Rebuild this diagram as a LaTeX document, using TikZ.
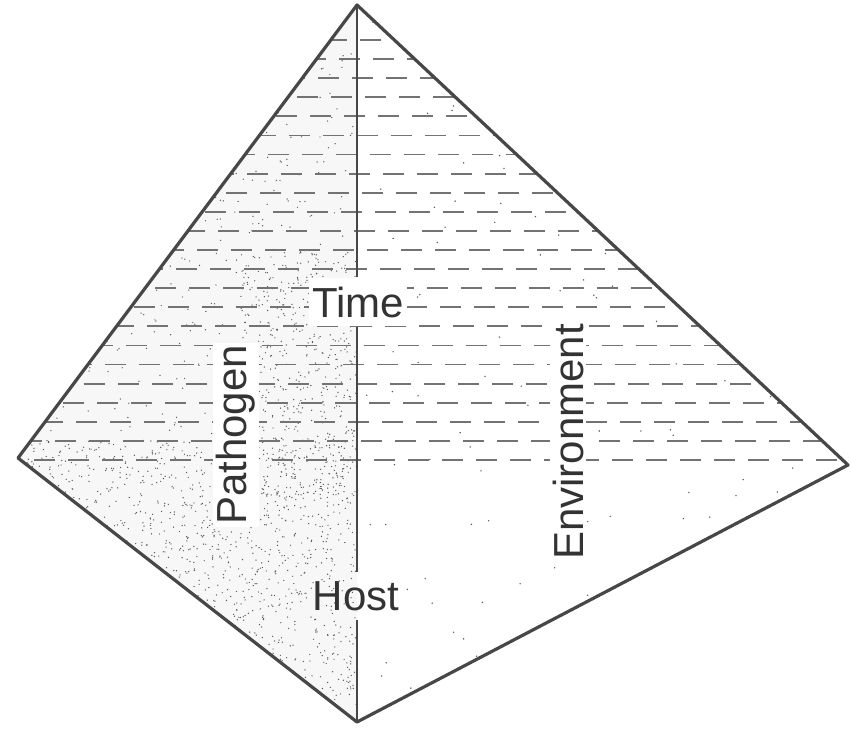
\documentclass[tikz,border=0pt]{standalone}
\usepackage{fontspec}
\setmainfont{Liberation Sans}
\begin{document}
\begin{tikzpicture}[x=1pt,y=-1pt,
  edge/.style={draw=black!72,line width=3.2pt,line join=round,line cap=round},
  spine/.style={draw=black!72,line width=2.6pt},
  lbl/.style={font=\fontsize{42}{48}\selectfont,text=black!80,inner xsep=3pt,inner ysep=9pt},
  dashline/.style={draw=black!55,line width=1.8pt,dash pattern=on 21pt off 13pt},
  dotc/.style={fill=black!65}]
\useasboundingbox (0,0) rectangle (851,731);
\coordinate (A) at (357,5);
\coordinate (L) at (18,458);
\coordinate (R) at (848,465);
\coordinate (B) at (357,722);
% faint tint on the lower left face
\fill[black!3] (L)--(B)--(A)--cycle;
% stippling on left face
\pgfmathsetseed{4321}
\begin{scope}
  \clip (A)--(L)--(B)--cycle;
  \foreach \i in {1,...,800}{
    \pgfmathsetmacro\rx{18+rnd*340}
    \pgfmathsetmacro\ry{5+rnd*717}
    \fill[dotc] (\rx,\ry) circle (0.7);
  }
  \foreach \i in {1,...,500}{
    \pgfmathsetmacro\rx{240+rnd*118}
    \pgfmathsetmacro\ry{250+rnd*250}
    \fill[dotc] (\rx,\ry) circle (0.7);
  }
  \foreach \i in {1,...,1500}{
    \pgfmathsetmacro\rx{18+rnd*340}
    \pgfmathsetmacro\ry{440+rnd*282}
    \fill[dotc] (\rx,\ry) circle (0.7);
  }
\end{scope}
% sparse dots on right face
\begin{scope}
  \clip (A)--(R)--(B)--cycle;
  \foreach \i in {1,...,170}{
    \pgfmathsetmacro\rx{357+rnd*490}
    \pgfmathsetmacro\ry{5+rnd*717}
    \fill[dotc] (\rx,\ry) circle (0.8);
  }
\end{scope}
% dashed horizontal lines
\begin{scope}
  \clip (A)--(L)--(B)--(R)--cycle;
  \foreach \k in {0,...,22}{
    \pgfmathsetmacro\yy{460-\k*19.09}
    \pgfmathsetmacro\ph{mod(\k*13,34)}
    \draw[dashline,dash phase=\ph pt] (0,\yy) -- (851,\yy);
  }
\end{scope}
% labels
\node[lbl,fill=white] (time) at (358,302) {Time};
\node[lbl] (host) at (356,596) {Host};
\node[lbl,fill=white,rotate=90,inner ysep=3pt,inner xsep=2pt] (path) at (236,435) {Pathogen};
\node[lbl,fill=white,rotate=90,inner ysep=3pt,inner xsep=2pt] (env) at (568,442) {Environment};
% outline
\draw[edge] (A) -- (L) -- (B) -- (R) -- cycle;
\draw[spine] (A) -- (time.north -| A);
\draw[spine] (time.south -| A) -- (host.north -| A);
\draw[spine] (host.south -| A) -- (B);
\end{tikzpicture}
\end{document}
